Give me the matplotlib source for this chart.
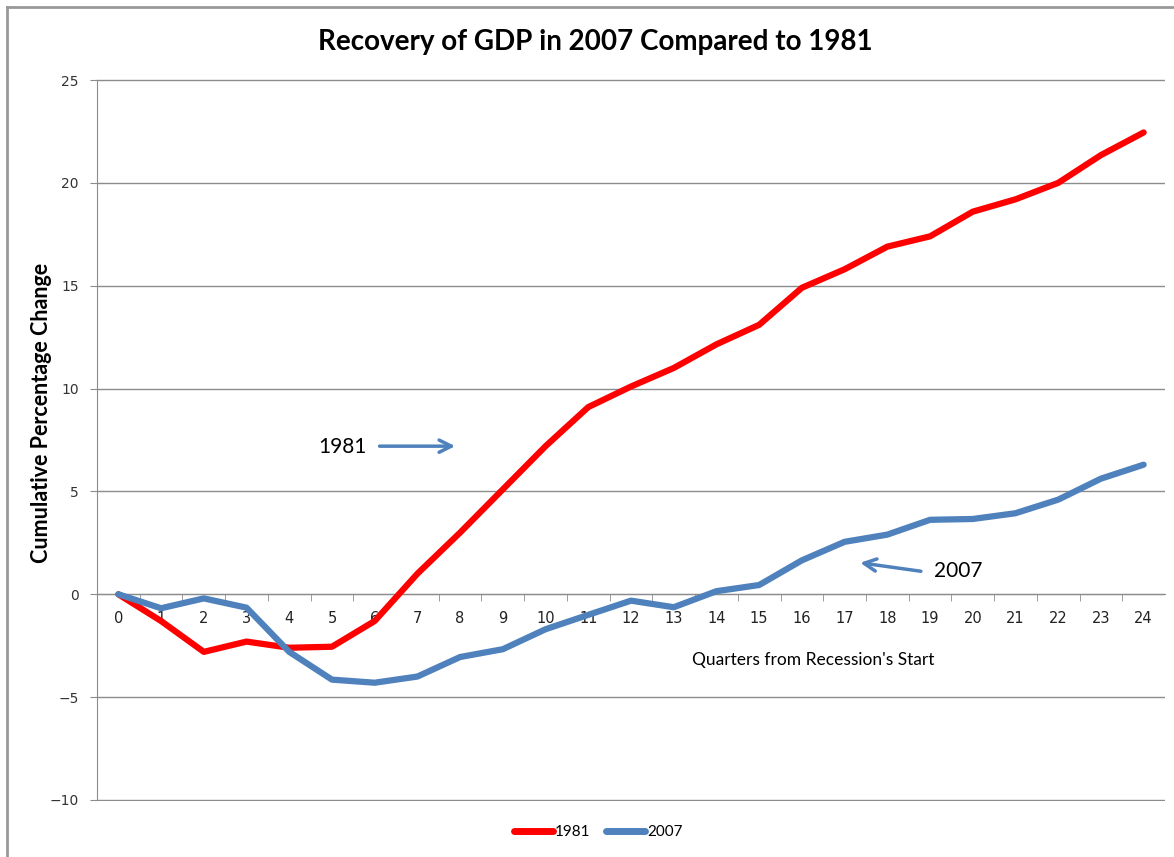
import numpy as np
import matplotlib
matplotlib.use("Agg")
import matplotlib.pyplot as plt
from matplotlib.lines import Line2D

# data
quarters = list(range(25))
gdp_1981 = [0, -1.3, -2.8, -2.3, -2.6, -2.55, -1.3, 1.0, 3.0, 5.1, 7.2, 9.1,
            10.1, 11.0, 12.15, 13.1, 14.9, 15.8, 16.9, 17.4, 18.6, 19.2, 20.0,
            21.35, 22.45]
gdp_2007 = [0, -0.68, -0.2, -0.65, -2.8, -4.15, -4.3, -4.0, -3.05, -2.67, -1.7,
            -1.0, -0.31, -0.63, 0.15, 0.45, 1.65, 2.55, 2.9, 3.62, 3.66, 3.94,
            4.6, 5.62, 6.3]
yticks = [-10, -5, 0, 5, 10, 15, 20, 25]

red = '#FF0000'
blue = '#4F81BD'
grid_c = '#8C8C8C'

W, H = 1174, 857
fig = plt.figure(figsize=(W / 100, H / 100), dpi=100)
ax = fig.add_axes([97 / W, (H - 801) / H, (1165 - 97) / W, 722 / H])

ax.plot(quarters, gdp_1981, color=red, lw=4.5, solid_capstyle='round',
        solid_joinstyle='round', label='1981', zorder=3)
ax.plot(quarters, gdp_2007, color=blue, lw=4.5, solid_capstyle='round',
        solid_joinstyle='round', label='2007', zorder=3)

ax.set_xlim(-0.5, 24.5)
ax.set_ylim(-10.05, 25.05)
ax.set_yticks(yticks)
ax.yaxis.grid(True, color=grid_c, lw=1)
ax.set_axisbelow(True)

for s in ['top', 'right']:
    ax.spines[s].set_visible(False)
ax.spines['bottom'].set_position(('data', 0))
ax.spines['bottom'].set_color(grid_c)
ax.spines['left'].set_color(grid_c)
ax.spines['left'].set_bounds(-10, 25)

ax.set_xticks(quarters)
ax.set_xticks(np.arange(0.5, 24.5, 1), minor=True)
ax.tick_params(axis='x', which='major', length=0, pad=12, labelsize=10.5,
               labelcolor='#222222')
ax.tick_params(axis='x', which='minor', length=5, color=grid_c, direction='out')
ax.tick_params(axis='y', length=5, color=grid_c, labelsize=10,
               labelcolor='#333333', pad=8)

# annotations
ax.text(5.25, 7.15, '1981', fontsize=15, family='Lato', ha='center', va='center')
ax.annotate('', xy=(7.95, 7.2), xytext=(6.05, 7.2),
            arrowprops=dict(arrowstyle='->', color=blue, lw=2.5,
                            mutation_scale=22))
ax.text(19.65, 1.15, '2007', fontsize=15, family='Lato', ha='center', va='center')
ax.annotate('', xy=(17.3, 1.55), xytext=(18.85, 1.1),
            arrowprops=dict(arrowstyle='->', color=blue, lw=2.5,
                            mutation_scale=22))

fig.text(595 / W, 1 - 42 / H, 'Recovery of GDP in 2007 Compared to 1981',
         fontsize=20, fontweight='bold', family='Lato', ha='center', va='center')
fig.text(42 / W, 1 - 413 / H, 'Cumulative Percentage Change', rotation=90,
         fontsize=15.5, fontweight='bold', family='Lato', ha='center', va='center')
fig.text(813 / W, 1 - 660 / H, "Quarters from Recession's Start",
         fontsize=12.5, family='Lato', ha='center', va='center')

handles = [Line2D([], [], color=red, lw=5, solid_capstyle='round'),
           Line2D([], [], color=blue, lw=5, solid_capstyle='round')]
fig.legend(handles, ['1981', '2007'], loc='center', ncol=2,
           bbox_to_anchor=(598 / W, 1 - 832 / H), frameon=False,
           handlelength=2.6, handletextpad=0.1, columnspacing=1.0,
           prop={'family': 'Lato', 'size': 11})

# chart frame (left and top edges visible)
fig.add_artist(Line2D([7 / W, 7 / W], [0, 1 - 7 / H], transform=fig.transFigure,
                      color='#999999', lw=2))
fig.add_artist(Line2D([7 / W, 1], [1 - 7 / H, 1 - 7 / H], transform=fig.transFigure,
                      color='#999999', lw=2))

fig.savefig('out.png', dpi=100, facecolor='white')
